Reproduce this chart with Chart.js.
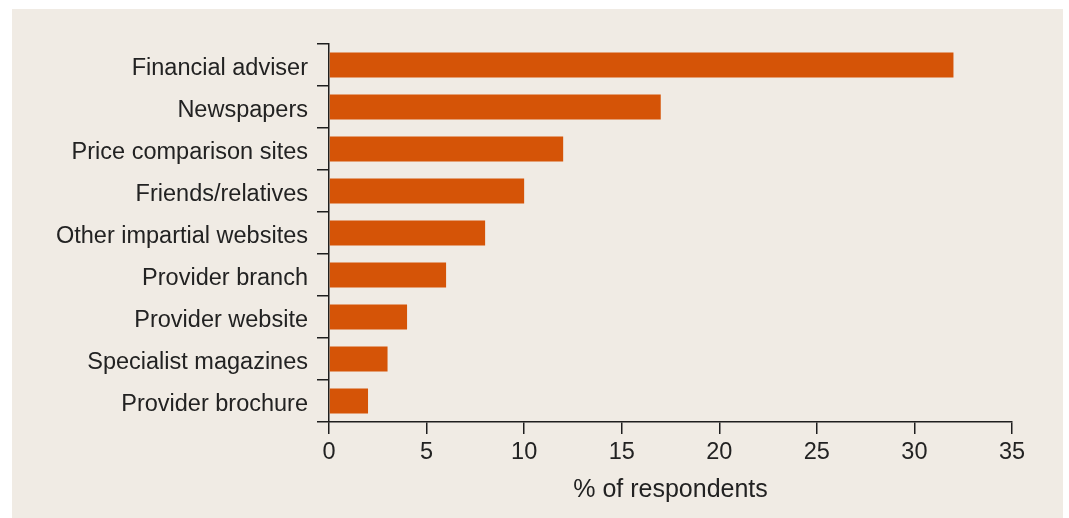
<!DOCTYPE html>
<html>
<head>
<meta charset="utf-8">
<script src="https://cdn.jsdelivr.net/npm/chart.js@4"></script>
<style>
  html, body { margin: 0; padding: 0; background: #fff; }
  #panel { position: absolute; left: 12px; top: 9px; width: 1051px; height: 509px; background: #f0ebe4; }
  canvas { display: block; }
</style>
</head>
<body>
<div id="panel"><canvas id="sources" width="1051" height="509"></canvas></div>
<script>
const sources = [
  'Financial adviser', 'Newspapers', 'Price comparison sites', 'Friends/relatives',
  'Other impartial websites', 'Provider branch', 'Provider website',
  'Specialist magazines', 'Provider brochure'
];
const shares = [32, 17, 12, 10, 8, 6, 4, 3, 2];
const xTicks = [0, 5, 10, 15, 20, 25, 30, 35];
const xTitle = '% of respondents';

const ink = '#1e1e1e';
const font = { family: '"Liberation Sans", Arial, sans-serif', size: 23.5 };

new Chart(document.getElementById('sources').getContext('2d'), {
  type: 'bar',
  data: {
    labels: sources,
    datasets: [{
      data: shares,
      backgroundColor: '#d55407',
      categoryPercentage: 1,
      barPercentage: 0.6
    }]
  },
  options: {
    indexAxis: 'y',
    responsive: false,
    animation: false,
    layout: { padding: { top: 35, right: 51, left: 0, bottom: 0 } },
    plugins: { legend: { display: false }, tooltip: { enabled: false } },
    scales: {
      x: {
        min: xTicks[0],
        max: xTicks[xTicks.length - 1],
        afterBuildTicks: s => { s.ticks = xTicks.map(v => ({ value: v })); },
        afterFit: s => { s.height = 96; },
        border: { color: ink, width: 1.5 },
        grid: { drawOnChartArea: false, tickLength: 12, color: ink, lineWidth: 1.5 },
        ticks: { color: '#222', font, padding: 4 },
        title: { display: true, text: xTitle, color: '#222', font: { ...font, size: 25 }, padding: { top: 0, bottom: 13 } }
      },
      y: {
        afterFit: s => { s.width = 317; },
        border: { color: ink, width: 1.5 },
        grid: { offset: true, drawOnChartArea: false, tickLength: 12, color: ink, lineWidth: 1.5 },
        ticks: { color: '#222', font, padding: 9, labelOffset: 4 }
      }
    }
  }
});
</script>
</body>
</html>
